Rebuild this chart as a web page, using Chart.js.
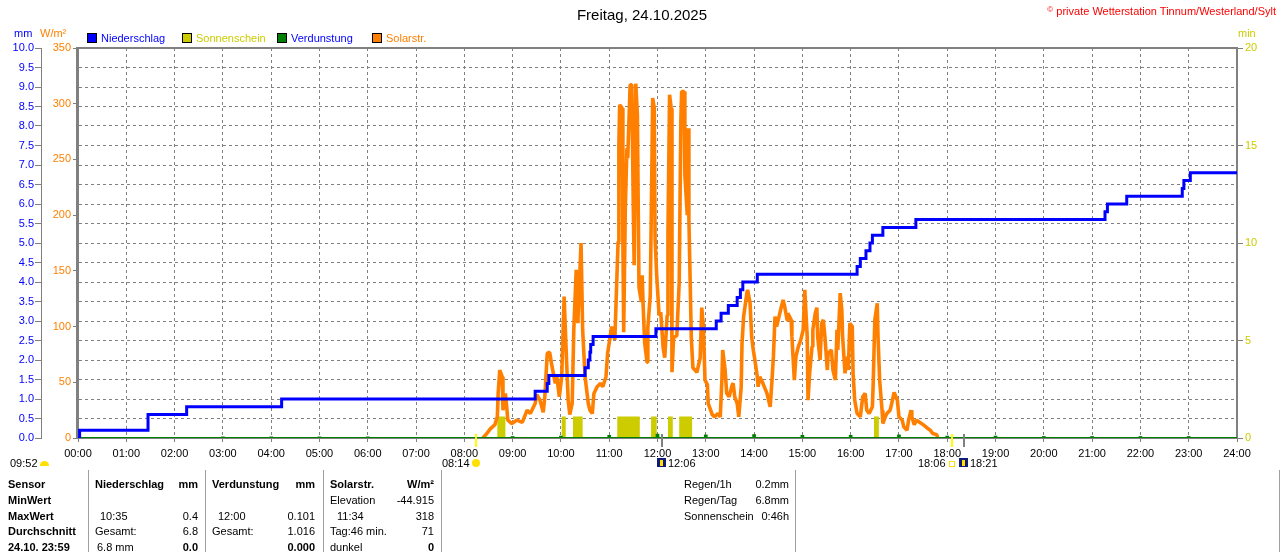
<!DOCTYPE html>
<html>
<head>
<meta charset="utf-8">
<script src="https://cdn.jsdelivr.net/npm/chart.js@4/dist/chart.umd.min.js"></script>
<style>
body { margin: 0; background: #fff; font-family: "Liberation Sans", Arial, sans-serif; font-size: 11px; }
#wrap { position: relative; width: 1280px; height: 552px; overflow: hidden; }
canvas { position: absolute; left: 0; top: 0; }
.t { position: absolute; white-space: nowrap; line-height: 13px; }
.b { font-weight: bold; }
.box { position: absolute; top: 33px; width: 8px; height: 8px; border: 1px solid #000; }
.vl { position: absolute; top: 470px; height: 82px; width: 1px; background: #a0a0a0; }
.nav { display: inline-block; width: 9px; height: 9px; background: #101c78; position: absolute; top: 458px; }
.nav i { position: absolute; left: 3px; top: 2px; width: 3px; height: 6px; background: #ffe000; }
</style>
</head>
<body>
<div id="wrap">
<canvas id="c" width="1280" height="552"></canvas>

<div class="t" style="left:0;width:1284px;text-align:center;top:6px;font-size:15px;line-height:18px">Freitag, 24.10.2025</div>
<div class="t" style="right:4px;top:5px;color:#ff0000"><span style="font-size:8px;vertical-align:top;line-height:9px">&copy;</span> private Wetterstation Tinnum/Westerland/Sylt</div>

<div class="t" style="left:14px;top:27px;color:#0000ff">mm</div>
<div class="t" style="left:40px;top:27px;color:#ff8000">W/m&sup2;</div>
<div class="t" style="left:1238px;top:27px;color:#cccc00">min</div>

<div class="box" style="left:87px;background:#0000ff"></div>
<div class="t" style="left:101px;top:32px;color:#0000ff">Niederschlag</div>
<div class="box" style="left:182px;background:#cccc00"></div>
<div class="t" style="left:196px;top:32px;color:#cccc00">Sonnenschein</div>
<div class="box" style="left:277px;background:#008000"></div>
<div class="t" style="left:291px;top:32px;color:#0000ff">Verdunstung</div>
<div class="box" style="left:372px;background:#ff8000"></div>
<div class="t" style="left:386px;top:32px;color:#ff8000">Solarstr.</div>

<!-- sun times row -->
<div class="t" style="left:10px;top:457px">09:52</div>
<div style="position:absolute;left:40px;top:461px;width:9px;height:5px;background:#ffe000;border-radius:5px 5px 0 0"></div>
<div class="t" style="left:442px;top:457px">08:14</div>
<div style="position:absolute;left:472px;top:459px;width:8px;height:8px;background:#ffe000;border-radius:50%"></div>
<div class="nav" style="left:657px"><i></i></div>
<div class="t" style="left:668px;top:457px">12:06</div>
<div class="t" style="left:918px;top:457px">18:06</div>
<div style="position:absolute;left:949px;top:461px;width:4px;height:4px;border:1px solid #ffe000"></div>
<div class="nav" style="left:959px"><i></i></div>
<div class="t" style="left:970px;top:457px">18:21</div>

<!-- table -->
<div class="vl" style="left:88px"></div>
<div class="vl" style="left:205px"></div>
<div class="vl" style="left:323px"></div>
<div class="vl" style="left:441px"></div>
<div class="vl" style="left:795px"></div>
<div class="vl" style="left:1279px"></div>

<div class="t b" style="left:8px;top:478px">Sensor</div>
<div class="t b" style="left:8px;top:494px">MinWert</div>
<div class="t b" style="left:8px;top:510px">MaxWert</div>
<div class="t b" style="left:8px;top:525px">Durchschnitt</div>
<div class="t b" style="left:8px;top:541px">24.10. 23:59</div>

<div class="t b" style="left:95px;top:478px">Niederschlag</div>
<div class="t b" style="right:1082px;top:478px">mm</div>
<div class="t" style="left:100px;top:510px">10:35</div>
<div class="t" style="right:1082px;top:510px">0.4</div>
<div class="t" style="left:95px;top:525px">Gesamt:</div>
<div class="t" style="right:1082px;top:525px">6.8</div>
<div class="t" style="left:97px;top:541px">6.8 mm</div>
<div class="t b" style="right:1082px;top:541px">0.0</div>

<div class="t b" style="left:212px;top:478px">Verdunstung</div>
<div class="t b" style="right:965px;top:478px">mm</div>
<div class="t" style="left:218px;top:510px">12:00</div>
<div class="t" style="right:965px;top:510px">0.101</div>
<div class="t" style="left:212px;top:525px">Gesamt:</div>
<div class="t" style="right:965px;top:525px">1.016</div>
<div class="t b" style="right:965px;top:541px">0.000</div>

<div class="t b" style="left:330px;top:478px">Solarstr.</div>
<div class="t b" style="right:846px;top:478px">W/m&sup2;</div>
<div class="t" style="left:330px;top:494px">Elevation</div>
<div class="t" style="right:846px;top:494px">-44.915</div>
<div class="t" style="left:337px;top:510px">11:34</div>
<div class="t" style="right:846px;top:510px">318</div>
<div class="t" style="left:330px;top:525px">Tag:46 min.</div>
<div class="t" style="right:846px;top:525px">71</div>
<div class="t" style="left:330px;top:541px">dunkel</div>
<div class="t b" style="right:846px;top:541px">0</div>

<div class="t" style="left:684px;top:478px">Regen/1h</div>
<div class="t" style="right:491px;top:478px">0.2mm</div>
<div class="t" style="left:684px;top:494px">Regen/Tag</div>
<div class="t" style="right:491px;top:494px">6.8mm</div>
<div class="t" style="left:684px;top:510px">Sonnenschein</div>
<div class="t" style="right:491px;top:510px">0:46h</div>
</div>

<script>
// all times in minutes after midnight

// Niederschlag, cumulative mm (value reached at that time)
const rainTime = [0, 2, 87, 135, 253, 568, 583, 585, 630, 634, 636, 637, 640, 718, 793, 799, 808, 819, 823, 826, 844,
  968, 972, 979, 984, 987, 1000, 1041, 1276, 1279, 1303, 1372, 1374, 1382, 1440];
const rainValue = [0, 0.2, 0.6, 0.8, 1.0, 1.2, 1.4, 1.6, 1.8, 2.0, 2.2, 2.4, 2.6, 2.8, 3.0, 3.2, 3.4, 3.6, 3.8, 4.0, 4.2,
  4.4, 4.6, 4.8, 5.0, 5.2, 5.4, 5.6, 5.8, 6.0, 6.2, 6.4, 6.6, 6.8, 6.8];

// Verdunstung per hour, mm
const evapTime = [180, 240, 300, 360, 540, 600, 660, 720, 780, 840, 900, 960, 1020, 1080, 1140, 1200, 1260, 1320, 1380];
const evapValue = [0.03, 0.03, 0.03, 0.03, 0.04, 0.05, 0.07, 0.10, 0.08, 0.09, 0.07, 0.07, 0.08, 0.05, 0.05, 0.04, 0.04, 0.04, 0.04];

// Sonnenschein intervals, min
const sunStart = [521, 601, 615, 670, 712, 733, 747, 989];
const sunEnd   = [531, 606, 627, 698, 719, 739, 763, 995];
const sunValue = 1.1;

// Solarstrahlung, W/m2
const solarTime = [503,508,512,518,521,522,524,527,528,531,533,534,539,545,552,558,562,568,570,574,578,580,583,586,589,
  593,595,598,601,604,606,609,611,614,616,619,621,625,627,630,634,636,639,641,645,649,652,656,658,661,663,667,668,671,
  672,673,676,677,678,680,682,683,686,688,690,691,693,695,697,700,701,702,704,707,708,711,713,714,716,717,719,722,724,
  727,729,732,733,735,737,738,740,744,747,749,750,753,754,757,758,759,762,764,769,773,775,777,779,782,783,788,791,795,
  798,800,801,804,806,809,813,814,816,819,821,824,825,827,831,832,835,837,839,841,844,845,847,851,856,860,862,864,866,
  868,872,876,878,881,882,886,887,890,892,895,898,901,903,906,907,909,912,913,916,918,919,922,924,926,928,931,932,936,
  938,941,943,944,947,949,950,953,955,957,959,962,963,965,968,972,975,978,980,983,987,988,990,993,994,996,999,1000,
  1003,1005,1009,1011,1014,1018,1020,1024,1026,1030,1032,1035,1036,1039,1042,1046,1050,1055,1059,1062,1067,1068];
const solarValue = [0,4,8,12,19,40,61,55,25,40,25,16,13,16,14,25,22,31,39,34,23,37,76,77,64,
  49,55,37,55,127,88,34,21,31,97,151,103,175,97,55,31,25,22,40,46,49,46,55,76,90,100,88,110,176,
  263,299,296,176,95,206,260,251,317,317,203,155,318,290,135,122,146,122,86,68,99,128,242,305,296,179,146,110,113,
  81,72,110,185,308,296,59,90,92,140,284,311,311,236,200,278,197,90,63,59,72,117,100,52,48,31,21,19,22,
  19,52,79,61,40,37,48,49,37,31,19,46,85,109,130,133,121,91,79,70,55,46,55,49,40,28,49,73,109,
  100,112,124,118,106,112,106,91,52,73,82,88,97,133,91,34,58,82,97,112,117,91,70,103,106,91,61,76,79,
  61,52,97,79,130,115,91,58,73,61,103,100,58,34,22,19,37,40,25,22,28,49,106,121,91,52,25,13,
  19,22,25,31,41,34,19,16,10,7,16,25,19,12,16,14,12,9,7,4,3,0];

// markers under the time axis: sunrise, solar noon, sunset, end of twilight
const markTime = [494, 726, 1086, 1101];
const markColor = ['#ffff00', '#808080', '#ffff00', '#808080'];

function hhmm(v) {
  const h = Math.floor(v / 60), m = v % 60;
  return String(h).padStart(2, '0') + ':' + String(m).padStart(2, '0');
}

const sunPoints = [{x: 0, y: 0}];
sunStart.forEach((s, i) => {
  sunPoints.push({x: s, y: sunValue});
  sunPoints.push({x: sunEnd[i], y: 0});
});
sunPoints.push({x: 1440, y: 0});

const framePlugin = {
  id: 'frame',
  beforeDatasetsDraw(chart) {
    const a = chart.chartArea, c = chart.ctx;
    c.save();
    c.strokeStyle = '#808080';
    c.lineWidth = 2;
    c.strokeRect(a.left - 1, a.top, a.right - a.left + 1, a.bottom - a.top);
    c.restore();
  },
  afterDraw(chart) {
    const x = chart.scales.x, c = chart.ctx, b = chart.chartArea.bottom;
    c.save();
    markTime.forEach((t, i) => {
      const px = Math.round(x.getPixelForValue(t));
      c.fillStyle = markColor[i];
      c.fillRect(px - 1, b - 4, 2, 13);
    });
    c.restore();
  }
};

Chart.defaults.font.family = '"Liberation Sans", Arial, sans-serif';
Chart.defaults.font.size = 11;

const ctx = document.getElementById('c').getContext('2d');
new Chart(ctx, {
  type: 'line',
  data: {
    datasets: [
      {
        label: 'Niederschlag',
        data: rainTime.map((t, i) => ({x: t, y: rainValue[i]})),
        yAxisID: 'yMm',
        borderColor: '#0000ff',
        borderWidth: 3,
        stepped: true,
        pointRadius: 0,
        fill: false
      },
      {
        label: 'Verdunstung',
        type: 'bar',
        data: evapTime.map((t, i) => ({x: t, y: evapValue[i]})),
        yAxisID: 'yMm',
        backgroundColor: '#008000',
        barThickness: 3
      },
      {
        label: 'Verdunstung Basis',
        data: [{x: 0, y: 0}, {x: 1440, y: 0}],
        yAxisID: 'yMm',
        borderColor: '#008000',
        borderWidth: 2,
        pointRadius: 0
      },
      {
        label: 'Solarstr.',
        data: solarTime.map((t, i) => ({x: t, y: solarValue[i]})),
        yAxisID: 'yW',
        borderColor: '#ff8000',
        borderWidth: 3.6,
        borderJoinStyle: 'bevel',
        tension: 0,
        pointRadius: 0,
        fill: false
      },
      {
        label: 'Sonnenschein',
        data: sunPoints,
        yAxisID: 'yMin',
        borderWidth: 0,
        backgroundColor: '#cccc00',
        fill: 'origin',
        stepped: true,
        pointRadius: 0
      }
    ]
  },
  options: {
    responsive: false,
    animation: false,
    devicePixelRatio: 1,
    layout: {padding: {top: 48, bottom: 94, left: 0, right: 0}},
    plugins: {legend: {display: false}, tooltip: {enabled: false}},
    scales: {
      x: {
        type: 'linear', min: 0, max: 1440, offset: false,
        ticks: {stepSize: 60, callback: v => hhmm(v), maxRotation: 0, autoSkip: false, color: '#000', padding: 5},
        grid: {color: '#808080', tickLength: 4, offset: false},
        border: {color: '#808080', width: 2, dash: [3, 3]},
        afterFit: s => { s.height = 20; }
      },
      yMm: {
        position: 'left', weight: 2, min: 0, max: 10,
        ticks: {stepSize: 0.5, callback: v => v.toFixed(1), color: '#0000ff', padding: 1, autoSkip: false},
        grid: {color: '#808080', tickLength: 6},
        border: {color: '#808080', width: 1, dash: [3, 3]},
        afterFit: s => { s.width = 41; }
      },
      yW: {
        position: 'left', weight: 1, min: 0, max: 350,
        ticks: {stepSize: 50, color: '#ff8000', padding: 2},
        grid: {drawOnChartArea: false, color: '#808080', tickLength: 5},
        border: {color: '#808080', width: 2},
        afterFit: s => { s.width = 37; }
      },
      yMin: {
        position: 'right', min: 0, max: 20,
        ticks: {stepSize: 5, color: '#cccc00', padding: 2},
        grid: {drawOnChartArea: false, color: '#808080', tickLength: 6},
        border: {color: '#808080', width: 2},
        afterFit: s => { s.width = 43; }
      }
    }
  },
  plugins: [framePlugin]
});
</script>
</body>
</html>
